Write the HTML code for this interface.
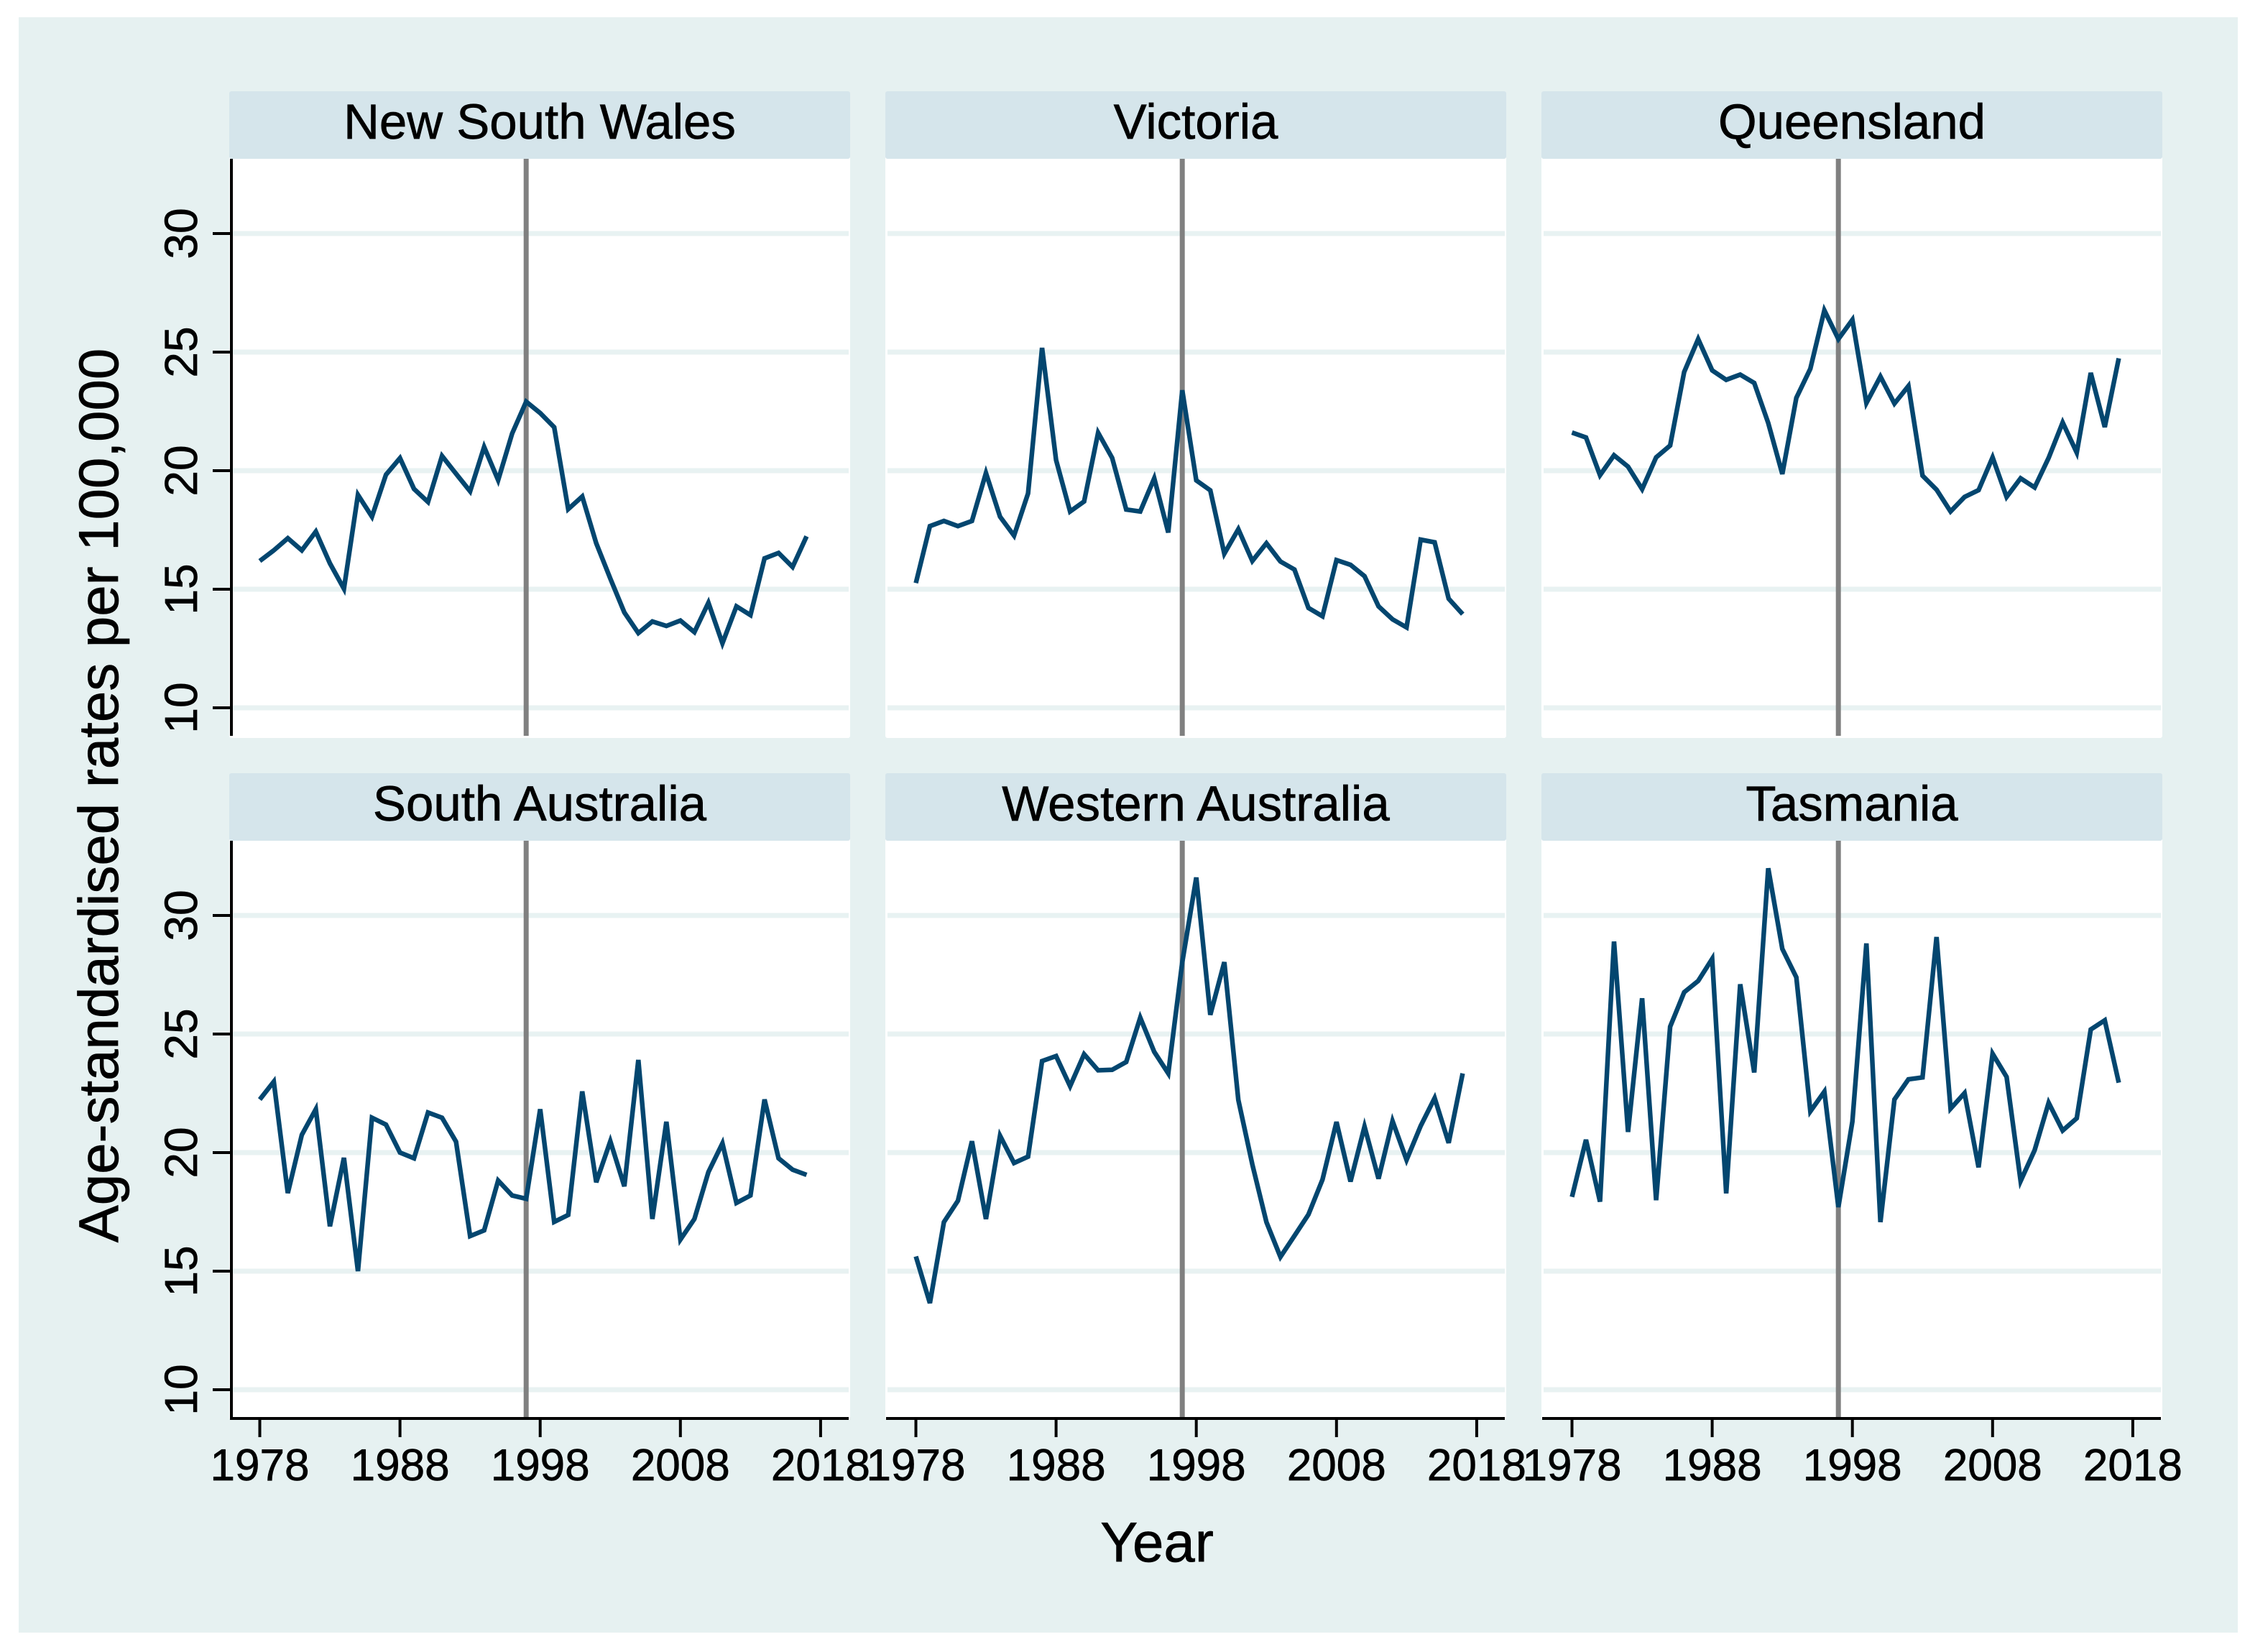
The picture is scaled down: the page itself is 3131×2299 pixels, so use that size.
<!DOCTYPE html>
<html lang="en">
<head>
<meta charset="utf-8">
<title>Age-standardised rates by state</title>
<style>
html,body{margin:0;padding:0;background:#fff;}
svg{display:block;}
text{font-family:"Liberation Sans",Arial,Helvetica,sans-serif;fill:#000;stroke:#000;stroke-width:0.7px;}
</style>
</head>
<body>
<svg id="chart" xmlns="http://www.w3.org/2000/svg" width="3131" height="2299" viewBox="0 0 3131 2299">
<rect x="26" y="24" width="3088" height="2248" fill="#e6f1f1"/>
<text transform="translate(164,1107) rotate(-90)" text-anchor="middle" font-size="78">Age-standardised rates per 100,000</text>
<text x="1610" y="2173" text-anchor="middle" font-size="78">Year</text>
</svg>
<script>
const panelNames = ["New South Wales", "Victoria", "Queensland", "South Australia", "Western Australia", "Tasmania"];
const firstYear = 1978;
const interventionYear = 1997;
const yTickValues = [10, 15, 20, 25, 30];
const xTickValues = [1978, 1988, 1998, 2008, 2018];
const newSouthWales = [16.19,16.64,17.15,16.64,17.43,16.09,15.02,18.98,18.06,19.83,20.53,19.23,18.68,20.62,19.87,19.13,21.0,19.6,21.57,22.91,22.43,21.83,18.38,18.91,16.94,15.45,14.02,13.15,13.64,13.45,13.68,13.19,14.43,12.72,14.28,13.91,16.3,16.53,15.94,17.23];
const victoria = [15.26,17.66,17.88,17.66,17.88,19.9,18.06,17.26,19.04,25.18,20.45,18.28,18.7,21.6,20.54,18.36,18.28,19.68,17.39,23.39,19.59,19.17,16.5,17.53,16.19,16.94,16.17,15.83,14.21,13.86,16.23,16.03,15.55,14.28,13.73,13.39,17.09,16.98,14.6,13.95];
const queensland = [21.61,21.4,19.81,20.65,20.17,19.22,20.56,21.06,24.16,25.55,24.23,23.83,24.05,23.7,22.01,19.86,23.07,24.3,26.76,25.55,26.36,22.85,23.97,22.83,23.57,19.79,19.2,18.28,18.89,19.18,20.56,18.89,19.68,19.29,20.54,22.03,20.76,24.12,21.84,24.74];
const southAustralia = [22.24,22.99,18.29,20.75,21.83,16.89,19.78,15.0,21.47,21.18,20.0,19.76,21.69,21.47,20.46,16.48,16.72,18.82,18.19,18.05,21.83,17.08,17.37,22.58,18.75,20.48,18.58,23.91,17.2,21.3,16.33,17.2,19.18,20.39,17.88,18.19,22.24,19.76,19.28,19.06];
const westernAustralia = [15.62,13.65,17.07,17.97,20.48,17.2,20.71,19.56,19.83,23.86,24.07,22.8,24.15,23.47,23.49,23.82,25.69,24.25,23.34,28.03,31.6,25.81,28.03,22.22,19.5,17.07,15.6,16.49,17.39,18.86,21.29,18.78,21.1,18.9,21.33,19.69,21.12,22.3,20.41,23.34];
const tasmania = [18.13,20.54,17.93,28.9,20.87,26.51,17.99,25.31,26.76,27.24,28.17,18.28,27.1,23.38,31.99,28.59,27.39,21.74,22.57,17.7,21.31,28.82,17.07,22.24,23.09,23.17,29.09,21.85,22.51,19.38,24.17,23.19,18.8,20.1,22.1,20.93,21.45,25.19,25.58,22.95];
const panelSeries = [newSouthWales, victoria, queensland, southAustralia, westernAustralia, tasmania];

const svg = document.getElementById('chart');
const NS = 'http://www.w3.org/2000/svg';
const COL_STEP = 913, ROW_STEP = 949;
const PANEL_W = 864, STRIP_H = 94, PLOT_H = 806;
const PANEL_X0 = 319, PANEL_Y0 = 127;
const X_1978 = 361.5, PX_PER_YEAR = 19.51;
const Y_10 = 985, PX_PER_UNIT = 33;

function xScale(col, year) { return X_1978 + col * COL_STEP + (year - 1978) * PX_PER_YEAR; }
function yScale(row, value) { return Y_10 + row * ROW_STEP - (value - 10) * PX_PER_UNIT; }
function make(tag, attrs, parent) {
  const el = document.createElementNS(NS, tag);
  for (const k in attrs) el.setAttribute(k, attrs[k]);
  parent.appendChild(el);
  return el;
}

panelNames.forEach(function (name, i) {
  const col = i % 3, row = Math.floor(i / 3);
  const px = PANEL_X0 + col * COL_STEP, py = PANEL_Y0 + row * ROW_STEP;
  const plotTop = py + STRIP_H, plotBottom = plotTop + PLOT_H;

  const group = make('g', {}, svg);
  
  

  const plot = make('rect', { x: px, y: plotTop - 4, width: PANEL_W, height: PLOT_H + 4, rx: 3, fill: '#ffffff' }, group);
  
  

  yTickValues.forEach(function (v) {
    const grid = make('line', { x1: px + 3, x2: px + PANEL_W - 2, y1: yScale(row, v), y2: yScale(row, v), stroke: '#e8f2f2', 'stroke-width': 7 }, group);
    
    
  });

  const strip = make('rect', { x: px, y: py, width: PANEL_W, height: STRIP_H, rx: 3, fill: '#d5e5eb' }, group);
  
  

  const title = make('text', { x: px + PANEL_W / 2, y: py + 66, 'text-anchor': 'middle', 'font-size': 69 }, group);
  title.textContent = name;
  
  

  const vline = make('line', { x1: xScale(col, interventionYear), x2: xScale(col, interventionYear), y1: plotTop, y2: plotBottom - 3, stroke: '#808080', 'stroke-width': 7 }, group);
  
  

  const pts = panelSeries[i].map(function (v, k) {
    return xScale(col, firstYear + k).toFixed(1) + ',' + yScale(row, v).toFixed(1);
  }).join(' ');
  const series = make('polyline', { points: pts, fill: 'none', stroke: '#03466f', 'stroke-width': 6.5, 'stroke-linejoin': 'miter', 'stroke-miterlimit': 4 }, group);
  
  

  if (col === 0) {
    const yAxis = make('line', { x1: px + 3, x2: px + 3, y1: plotTop, y2: plotBottom - (row === 1 ? 0 : 3), stroke: '#000', 'stroke-width': 4 }, group);
    
    
    yTickValues.forEach(function (v) {
      const y = yScale(row, v);
      const tick = make('line', { x1: px - 23, x2: px + 3, y1: y, y2: y, stroke: '#000', 'stroke-width': 4 }, group);
      
      
      const label = make('text', { transform: 'translate(274,' + y + ') rotate(-90)', 'text-anchor': 'middle', 'font-size': 64 }, group);
      label.textContent = v;
      
      
    });
  }

  if (row === 1) {
    const axisY = plotBottom - 2;
    const xAxis = make('line', { x1: px + 1, x2: px + PANEL_W - 2, y1: axisY, y2: axisY, stroke: '#000', 'stroke-width': 4 }, group);
    
    
    xTickValues.forEach(function (yr) {
      const x = xScale(col, yr);
      const tick = make('line', { x1: x, x2: x, y1: axisY, y2: axisY + 26, stroke: '#000', 'stroke-width': 4 }, group);
      
      
      const label = make('text', { x: x, y: 2060, 'text-anchor': 'middle', 'font-size': 62 }, group);
      label.textContent = yr;
      
      
    });
  }
});
</script>
</body>
</html>
